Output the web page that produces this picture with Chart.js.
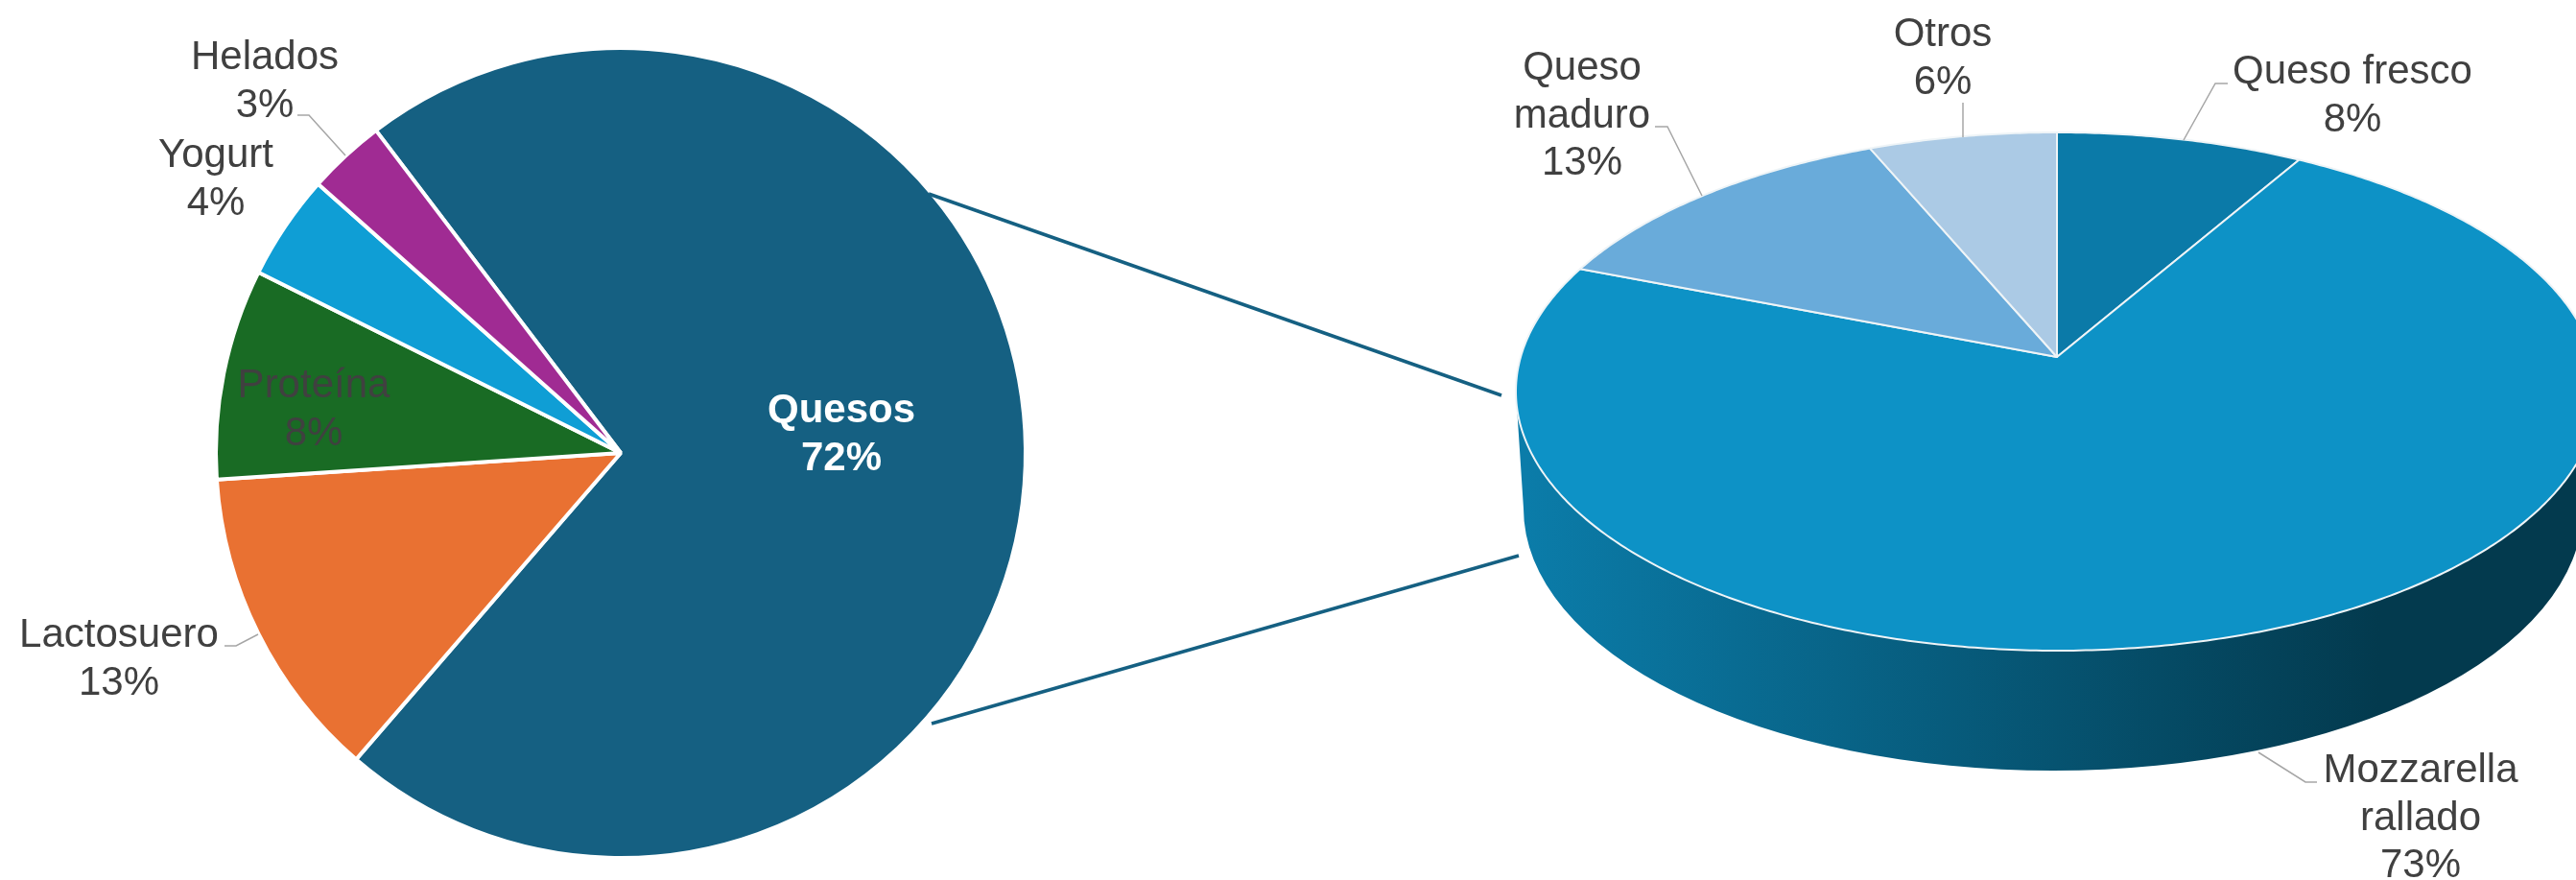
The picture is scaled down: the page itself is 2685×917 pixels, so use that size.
<!DOCTYPE html>
<html lang="es">
<head>
<meta charset="utf-8">
<title>Lácteos</title>
<script src="https://cdn.jsdelivr.net/npm/chart.js@4/dist/chart.umd.min.js"></script>
<style>
    html, body { margin: 0; padding: 0; background: #fff; overflow: hidden; }
    canvas { position: absolute; left: 0; top: 0; }
</style>
</head>
<body>
<canvas id="pieLeft" width="2685" height="917"></canvas>
<canvas id="pieRight" width="2685" height="917"></canvas>
<script>
// DATOS
const productos = ['Quesos', 'Lactosuero', 'Proteína', 'Yogurt', 'Helados'];
const productosPct = [71.6, 12.6, 8.4, 4.2, 3.1];

const quesos = ['Queso fresco', 'Mozzarella rallado', 'Queso maduro', 'Otros'];
const quesosPct = [8.4, 72.5, 12.7, 6.4];

// ESTILOS
const productosColors = ['#156082', '#E97132', '#196B24', '#0F9ED5', '#A02B93'];
const quesosColors = ['#0B7AA8', '#0D92C6', '#69ABDA', '#ABCAE5'];
const textColor = '#404040';
const leaderColor = '#A6A6A6';
const fontFamily = '"Liberation Sans", Arial, sans-serif';
const lineHeight = 49.5;

// centro de cada etiqueta y linea base del primer renglon
const productosLabelPos = [[877, 440], [124, 674], [327, 414], [225, 174], [276, 72]];
const quesosLabelLines = [['Queso fresco'], ['Mozzarella', 'rallado'], ['Queso', 'maduro'], ['Otros']];
const quesosLabelPos = [[2452, 87], [2523, 815], [1649, 83], [2025, 48]];

const leaders = [
    [[310, 120], [322, 120], [360, 162]],
    [[234, 673], [246, 673], [269, 661]],
    [[2322, 87], [2309, 87], [2276, 146]],
    [[1725, 132], [1738, 132], [1774, 204]],
    [[2046, 107], [2046, 143]],
    [[2415, 815], [2403, 815], [2354, 784]]
];
const connectors = [
    [[968, 202], [1565, 412]],
    [[971, 754], [1583, 579]]
];

// GEOMETRIA DEL PASTEL 3D
const top3d = { x: 2144, y: 408, rx: 564, ry: 270, apexShift: 36 };
const base3d = { x: 2140, y: 530, rx: 552, ry: 273 };

// circulo -> elipse con perspectiva, el centro queda arriba del centro de la elipse
function project(u, v) {
    const p = top3d.apexShift / top3d.ry;
    const w = 1 - p * v;
    const a = top3d.rx * Math.sqrt(1 - p * p);
    return [top3d.x + a * u / w, top3d.y + top3d.ry * (v - p) / w];
}

function drawLabel(ctx, lines, pos, color, bold) {
    ctx.fillStyle = color;
    ctx.font = (bold ? 'bold ' : '') + '42px ' + fontFamily;
    ctx.textAlign = 'center';
    ctx.textBaseline = 'alphabetic';
    lines.forEach((line, i) => ctx.fillText(line, pos[0], pos[1] + i * lineHeight));
}

function polyline(ctx, pts) {
    ctx.beginPath();
    pts.forEach((p, i) => i ? ctx.lineTo(p[0], p[1]) : ctx.moveTo(p[0], p[1]));
    ctx.stroke();
}

// PASTEL IZQUIERDO
const leftLabels = {
    id: 'leftLabels',
    afterDraw(chart) {
        const ctx = chart.ctx;
        ctx.save();
        productos.forEach((name, i) => {
            const lines = [name, Math.round(productosPct[i]) + '%'];
            drawLabel(ctx, lines, productosLabelPos[i], i === 0 ? '#ffffff' : textColor, i === 0);
        });
        ctx.restore();
    }
};

new Chart(document.getElementById('pieLeft'), {
    type: 'pie',
    data: {
        labels: productos,
        datasets: [{
            data: productosPct,
            backgroundColor: productosColors,
            borderColor: '#ffffff',
            borderWidth: 4
        }]
    },
    options: {
        responsive: false,
        animation: false,
        rotation: -37.2,
        layout: { padding: { left: 223, right: 1614, top: 48, bottom: 21 } },
        plugins: { legend: { display: false }, tooltip: { enabled: false } }
    },
    plugins: [leftLabels]
});

// PASTEL DERECHO
const pie3d = {
    id: 'pie3d',
    beforeDatasetsDraw(chart) {
        const ctx = chart.ctx;
        ctx.save();

        // lineas que unen los dos pasteles
        ctx.strokeStyle = '#156082';
        ctx.lineWidth = 3.5;
        connectors.forEach(c => polyline(ctx, c));

        // pared lateral
        const grad = ctx.createLinearGradient(1590, 0, 2480, 0);
        grad.addColorStop(0, '#0B7CA9');
        grad.addColorStop(1, '#033A4E');
        ctx.fillStyle = grad;
        ctx.beginPath();
        ctx.moveTo(top3d.x - top3d.rx, top3d.y);
        ctx.lineTo(base3d.x - base3d.rx, base3d.y);
        ctx.ellipse(base3d.x, base3d.y, base3d.rx, base3d.ry, 0, Math.PI, 0, true);
        ctx.lineTo(top3d.x + top3d.rx, top3d.y);
        ctx.closePath();
        ctx.fill();
        ctx.restore();
    },
    // las rebanadas usan los angulos que calcula Chart.js
    beforeDatasetDraw(chart, args) {
        const ctx = chart.ctx;
        ctx.save();
        ctx.lineWidth = 2;
        ctx.strokeStyle = '#EEF4F7';
        ctx.lineJoin = 'round';
        args.meta.data.forEach((arc, i) => {
            const start = arc.startAngle;
            const end = arc.endAngle;
            const steps = Math.ceil((end - start) / 0.01);
            ctx.beginPath();
            const apex = project(0, 0);
            ctx.moveTo(apex[0], apex[1]);
            for (let s = 0; s <= steps; s++) {
                const t = start + (end - start) * s / steps;
                const p = project(Math.cos(t), Math.sin(t));
                ctx.lineTo(p[0], p[1]);
            }
            ctx.closePath();
            ctx.fillStyle = quesosColors[i];
            ctx.fill();
            ctx.stroke();
        });
        ctx.restore();
        return false;
    },
    afterDraw(chart) {
        const ctx = chart.ctx;
        ctx.save();
        ctx.strokeStyle = leaderColor;
        ctx.lineWidth = 1.5;
        leaders.forEach(l => polyline(ctx, l));
        quesos.forEach((name, i) => {
            const lines = quesosLabelLines[i].concat(Math.round(quesosPct[i]) + '%');
            drawLabel(ctx, lines, quesosLabelPos[i], textColor, false);
        });
        ctx.restore();
    }
};

new Chart(document.getElementById('pieRight'), {
    type: 'pie',
    data: {
        labels: quesos,
        datasets: [{
            data: quesosPct,
            backgroundColor: quesosColors,
            borderWidth: 0
        }]
    },
    options: {
        responsive: false,
        animation: false,
        layout: { padding: { left: 1600, top: 60, bottom: 60 } },
        plugins: { legend: { display: false }, tooltip: { enabled: false } }
    },
    plugins: [pie3d]
});
</script>
</body>
</html>
